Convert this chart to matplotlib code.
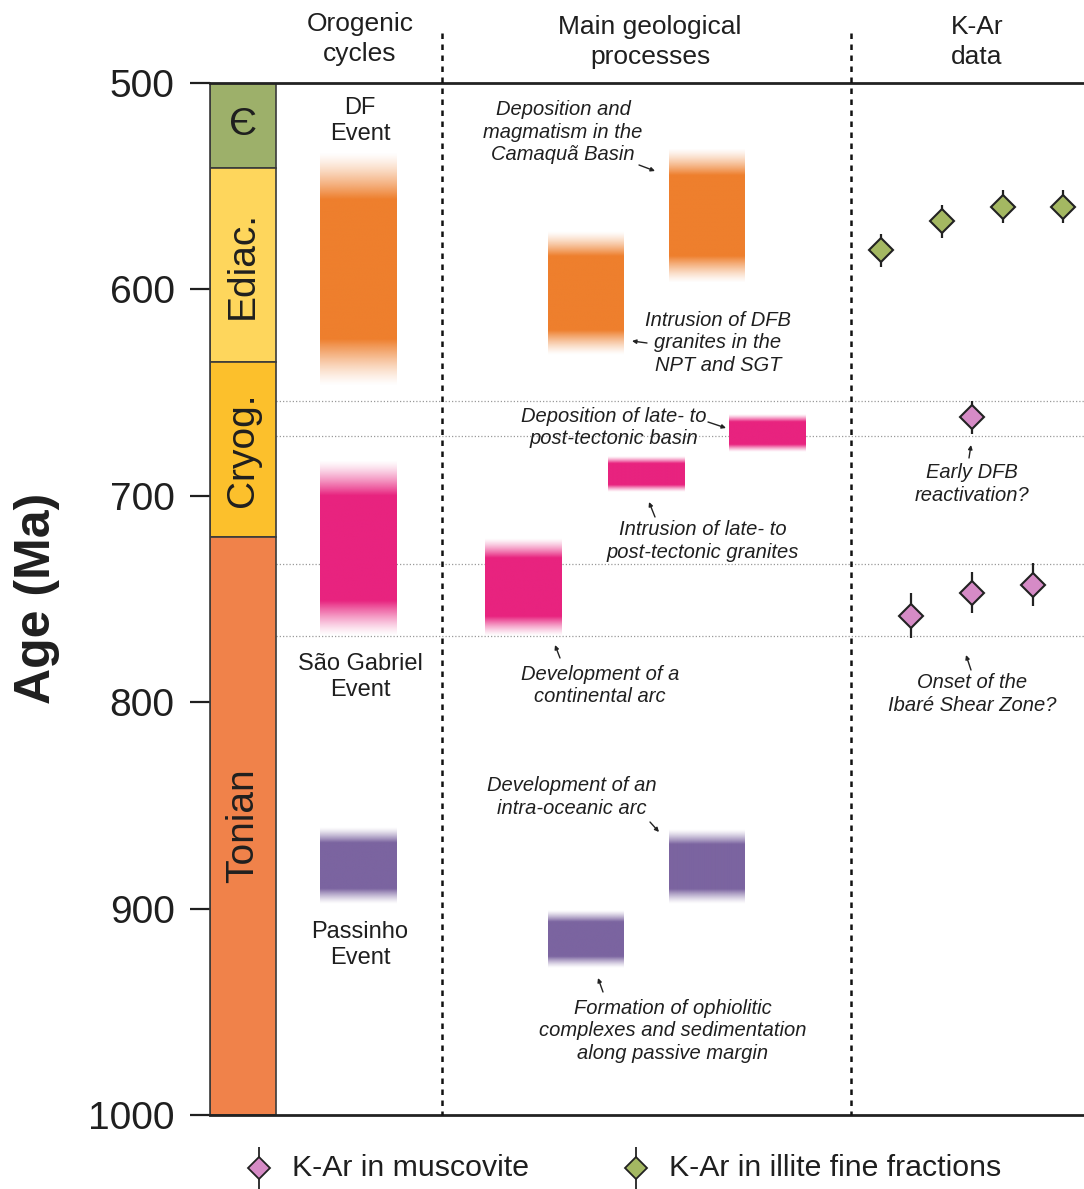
import numpy as np
import matplotlib
matplotlib.use("Agg")
import matplotlib.pyplot as plt
from matplotlib.patches import Rectangle
from matplotlib.colors import to_rgb

plt.rcParams['font.family'] = ['Liberation Sans', 'DejaVu Sans']

# ---------------- data ----------------
period_names = ["Є", "Ediac.", "Cryog.", "Tonian"]
period_bounds = [500, 541, 635, 720, 1000]
period_colors = ["#9db06a", "#fed65c", "#fcc02c", "#f0824a"]
age_ticks = [500, 600, 700, 800, 900, 1000]

event_labels = ["DF\nEvent", "São Gabriel\nEvent", "Passinho\nEvent"]
event_ranges = [(534, 647), (683, 768), (861, 898)]
event_colors = ["#ee7f2d", "#e8237f", "#7b64a0"]

process_labels = [
    "Deposition and\nmagmatism in the\nCamaquã Basin",
    "Intrusion of DFB\ngranites in the\nNPT and SGT",
    "Deposition of late- to\npost-tectonic basin",
    "Intrusion of late- to\npost-tectonic granites",
    "Development of a\ncontinental arc",
    "Development of an\nintra-oceanic arc",
    "Formation of ophiolitic\ncomplexes and sedimentation\nalong passive margin",
]
process_ranges = [(532, 597), (572, 632), (661, 679), (681, 698),
                  (721, 768), (862, 898), (901, 929)]
process_colors = ["#ee7f2d", "#ee7f2d", "#e8237f", "#e8237f",
                  "#e8237f", "#7b64a0", "#7b64a0"]

illite_age = [581, 567, 560, 560]
illite_err = [8, 8, 8, 8]
musc_age = [662, 758, 747, 743]
musc_err = [8, 11, 10, 10.5]

ref_lines = [654, 671, 733, 768]

kar_labels = ["Early DFB\nreactivation?", "Onset of the\nIbaré Shear Zone?"]

legend_labels = ["K-Ar in muscovite", "K-Ar in illite fine fractions"]

# ---------------- layout ----------------
W, H = 1084, 1189
fig = plt.figure(figsize=(W / 100, H / 100), dpi=100)
Y0, Y1 = 83, 1115           # pixel rows of 500 and 1000 Ma
ax = fig.add_axes([210 / W, 1 - Y1 / H, (W - 210) / W, (Y1 - Y0) / H])
XL, XR = 210, W
ax.set_xlim(XL, XR)
ax.set_ylim(1000, 500)


def ma(ypix):
    return 500 + (ypix - Y0) * 500.0 / (Y1 - Y0)


TXT = "#1f1f1f"

# stratigraphic column
col_x0, col_x1 = 210, 276
for i, name in enumerate(period_names):
    b0, b1 = period_bounds[i], period_bounds[i + 1]
    ax.add_patch(Rectangle((col_x0, b0), col_x1 - col_x0, b1 - b0,
                           facecolor=period_colors[i], edgecolor="#3a3a3a",
                           lw=1.2, zorder=2))
    rot = 0 if i == 0 else 90
    ax.text((col_x0 + col_x1) / 2, (b0 + b1) / 2, name, rotation=rot,
            ha="center", va="center", fontsize=28, color=TXT, zorder=3)

# axis styling
ax.set_yticks(age_ticks)
ax.set_yticklabels([str(t) for t in age_ticks])
ax.tick_params(axis="y", length=14.5, width=1.6, labelsize=28, pad=11,
               colors=TXT, direction="out")
ax.set_xticks([])
ax.spines["right"].set_visible(False)
ax.spines["left"].set_linewidth(1.2)
ax.spines["left"].set_color("#3a3a3a")
for s in ("top", "bottom"):
    ax.spines[s].set_linewidth(2.0)
    ax.spines[s].set_color("#222222")

fig.text(37 / W, 1 - 598 / H, "Age (Ma)", rotation=90, fontsize=36,
         fontweight="bold", ha="center", va="center", color=TXT)

# reference dotted lines
ax.hlines(ref_lines, col_x1, XR, colors="#9a9a9a", linestyles=(0, (1, 1.6)),
          lw=0.9, zorder=1)

# vertical dividers
for xd in (442, 851):
    ax.plot([xd, xd], [ma(33), 1000], ls=(0, (2.2, 2.2)), lw=1.8,
            color="#111111", clip_on=False, zorder=4)

# headers
headers = [("Orogenic\ncycles", 360, 39), ("Main geological\nprocesses", 650, 42),
           ("K-Ar\ndata", 977, 42)]
for t, xh, yh in headers:
    ax.text(xh, ma(yh), t, ha="center", va="center", fontsize=19,
            linespacing=1.28, color=TXT, clip_on=False)


# gradient bars
def fade_bar(x0, x1, a0, a1, color, frac=0.2):
    n = 300
    t = np.linspace(0, 1, n)
    alpha = np.ones(n)
    up = t < frac
    dn = t > 1 - frac
    s = t[up] / frac
    alpha[up] = s ** 1.3
    s = (1 - t[dn]) / frac
    alpha[dn] = s ** 1.3
    rgb = to_rgb(color)
    img = np.zeros((n, 2, 4))
    img[..., 0], img[..., 1], img[..., 2] = rgb
    img[..., 3] = alpha[:, None]
    ax.imshow(img, extent=(x0, x1, a1, a0), aspect="auto",
              interpolation="bilinear", zorder=2)


event_x = (320, 397)
for (a0, a1), c in zip(event_ranges, event_colors):
    fade_bar(event_x[0], event_x[1], a0, a1, c)

process_x = [(669, 745), (548, 624), (729, 806), (608, 685),
             (485, 562), (669, 745), (548, 624)]
for (x0, x1), (a0, a1), c in zip(process_x, process_ranges, process_colors):
    fade_bar(x0, x1, a0, a1, c)

# event labels
event_label_pos = [(360, 121), (360, 677), (360, 945)]
for t, (xt, yt) in zip(event_labels, event_label_pos):
    ax.text(xt, ma(yt), t, ha="center", va="center", fontsize=17,
            linespacing=1.22, color=TXT)

# process labels and arrows
proc_label_pos = [(563, 132), (718, 343), (614, 427.5), (703, 541),
                  (600, 685.5), (572, 797), (673, 1031)]
proc_arrows = [((639, 165), (655, 171)), ((647, 343), (632, 341)),
               ((708, 422), (726, 428)), ((655, 517), (649, 502)),
               ((560, 658), (555, 645)), ((650, 822), (659, 832)),
               ((603, 992), (598, 978))]
for t, (xt, yt) in zip(process_labels, proc_label_pos):
    ax.text(xt, ma(yt), t, ha="center", va="center", fontsize=14.5,
            style="italic", linespacing=1.21, color=TXT)

kar_label_pos = [(972, 484), (972, 694)]
kar_arrows = [((969, 458), (971, 445)), ((971, 670), (966, 655))]
for t, (xt, yt) in zip(kar_labels, kar_label_pos):
    ax.text(xt, ma(yt), t, ha="center", va="center", fontsize=14.5,
            style="italic", linespacing=1.21, color=TXT)

for (xs, ys), (xe, ye) in proc_arrows + kar_arrows:
    ax.annotate("", xy=(xe, ma(ye)), xytext=(xs, ma(ys)),
                arrowprops=dict(arrowstyle="-|>", lw=1.0, color="#222222",
                                mutation_scale=6, shrinkA=0, shrinkB=0))

# K-Ar data
ILL_C = "#a4b862"
MUS_C = "#d68bc6"
illite_x = [881, 942, 1003, 1063]
musc_x = [972, 911, 972, 1033]
mk = dict(fmt="D", ms=12, mec="#222222", mew=1.5, ecolor="#222222",
          elinewidth=1.6, capsize=0, zorder=6)
ax.errorbar(illite_x, illite_age, yerr=illite_err, mfc=ILL_C, **mk)
ax.errorbar(musc_x, musc_age, yerr=musc_err, mfc=MUS_C, **mk)

# legend
lax = fig.add_axes([0, 0, 1, 70 / H])
lax.set_xlim(0, W)
lax.set_ylim(H, H - 70)
lax.axis("off")
leg_x = [259, 636]
leg_c = [MUS_C, ILL_C]
for xl, c, t in zip(leg_x, leg_c, legend_labels):
    lax.errorbar([xl], [1168], yerr=[[21], [25]], fmt="D", ms=11, mfc=c,
                 mec="#222222", mew=1.3, ecolor="#222222", elinewidth=1.3,
                 capsize=0, clip_on=False)
    lax.text(xl + 33, 1168, t, ha="left", va="center", fontsize=21.8,
             color=TXT)

ax.set_xlim(XL, XR)
ax.set_ylim(1000, 500)

fig.savefig("out.png", dpi=100)
